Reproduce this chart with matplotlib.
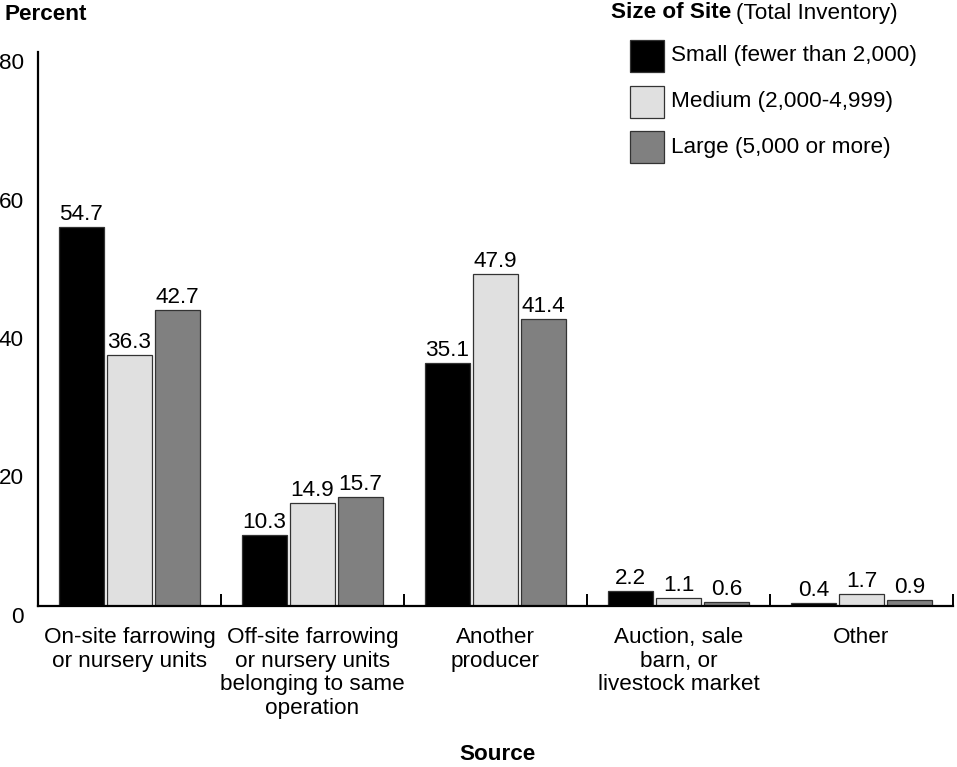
import matplotlib
matplotlib.use("Agg")
import matplotlib.pyplot as plt
from matplotlib.patches import Rectangle
from matplotlib.transforms import ScaledTranslation
import numpy as np

plt.rcParams['font.family'] = ['Liberation Sans', 'DejaVu Sans']

categories = [
    "On-site farrowing\nor nursery units",
    "Off-site farrowing\nor nursery units\nbelonging to same\noperation",
    "Another\nproducer",
    "Auction, sale\nbarn, or\nlivestock market",
    "Other",
]
series_names = [
    "Small (fewer than 2,000)",
    "Medium (2,000-4,999)",
    "Large (5,000 or more)",
]
small = [54.7, 10.3, 35.1, 2.2, 0.4]
medium = [36.3, 14.9, 47.9, 1.1, 1.7]
large = [42.7, 15.7, 41.4, 0.6, 0.9]
y_ticks = [0, 20, 40, 60, 80]

colors = ["#000000", "#e0e0e0", "#808080"]
FS = 16.2

fig = plt.figure(figsize=(9.57, 7.67), dpi=100)
W, H = 957, 767
ax = fig.add_axes([38 / W, 1 - 606 / H, (953 - 38) / W, (606 - 52) / H])

x = np.arange(len(categories))
width = 0.245
offsets = [-0.263, 0.0, 0.263]
for vals, off, col in zip([small, medium, large], offsets, colors):
    bars = ax.bar(x + off, vals, width, color=col, edgecolor="#333333", linewidth=0.9, zorder=2)
    for b, v in zip(bars, vals):
        ax.annotate(f"{v:.1f}", (b.get_x() + b.get_width() / 2, v),
                    xytext=(0, 1.5), textcoords="offset points",
                    ha="center", va="bottom", fontsize=FS)

ax.set_xlim(-0.5, len(categories) - 0.5)
ax.set_ylim(0, 80)

for s in ["top", "right"]:
    ax.spines[s].set_visible(False)
ax.spines["left"].set_linewidth(1.6)
ax.spines["bottom"].set_linewidth(1.6)

# y axis: labels only, nudged slightly below their value position
ax.set_yticks(y_ticks)
ax.set_yticklabels([str(t) for t in y_ticks], fontsize=FS)
ax.tick_params(axis="y", length=0, pad=10)
for lab in ax.get_yticklabels():
    lab.set_transform(lab.get_transform() + ScaledTranslation(0, -9 / 100, fig.dpi_scale_trans))

# x axis: category labels centred on groups, short inward ticks between groups
ax.set_xticks(x)
ax.set_xticklabels(categories, fontsize=FS, linespacing=1.17)
ax.tick_params(axis="x", which="major", length=0, pad=15)
ax.set_xticks(np.arange(len(categories)) + 0.5, minor=True)
ax.tick_params(axis="x", which="minor", direction="in", length=9, width=1.4)

fig.text(5 / W, 1 - 15 / H, "Percent", fontsize=FS, fontweight="bold", ha="left", va="center")
fig.text(497 / W, 1 - 755 / H, "Source", fontsize=FS, fontweight="bold", ha="center", va="center")

# legend
t1 = fig.text(611 / W, 1 - 13 / H, "Size of Site", fontsize=FS, fontweight="bold", ha="left", va="center")
fig.canvas.draw()
bb = t1.get_window_extent()
fig.text(bb.x1 / W + 5 / W, 1 - 13 / H, "(Total Inventory)", fontsize=FS, ha="left", va="center")
row_y = [56, 102, 147]
for name, col, ry in zip(series_names, colors, row_y):
    fig.patches.append(Rectangle((630 / W, 1 - (ry + 16) / H), 34 / W, 32 / H,
                                 transform=fig.transFigure, facecolor=col,
                                 edgecolor="#333333", linewidth=0.9))
    fig.text(671 / W, 1 - ry / H, name, fontsize=FS, ha="left", va="center")

fig.savefig("out.png", dpi=100)
